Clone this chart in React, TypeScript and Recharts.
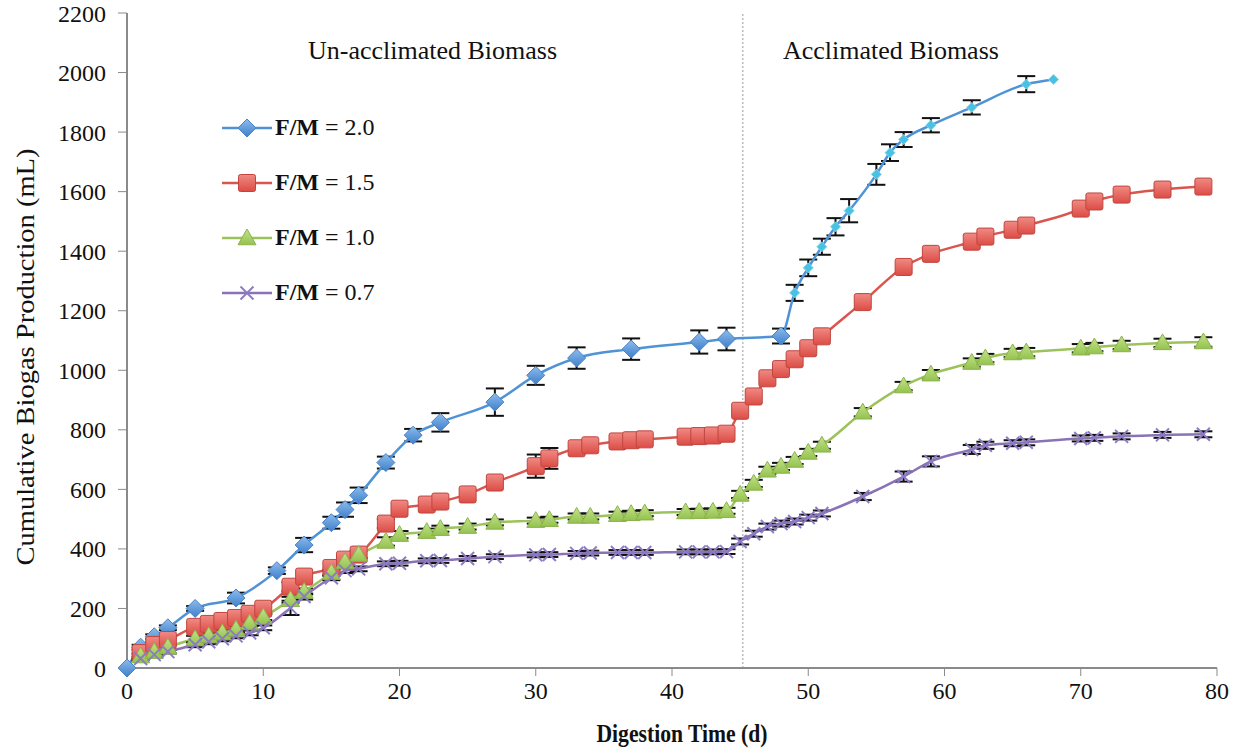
import { LineChart, Line, XAxis, YAxis, ErrorBar, ReferenceLine, Label } from "recharts";

// F/M = 2.0 (day 48 onwards is drawn with the small cyan marker)
const blueDays = [0, 1, 2, 3, 5, 8, 11, 13, 15, 16, 17, 19, 21, 23, 27, 30, 33, 37, 42, 44, 48, 49, 50, 51, 52, 53, 55, 56, 57, 59, 62, 66, 68];
const blueValues = [0, 70, 105, 135, 200, 235, 327, 413, 488, 532, 580, 690, 782, 825, 893, 983, 1041, 1071, 1095, 1105, 1115, 1260, 1344, 1415, 1482, 1536, 1658, 1731, 1775, 1823, 1883, 1961, 1977];
const blueErrors = [null, 8, 8, 8, 8, 18, 11, 24, 20, 24, 26, 20, 21, 31, 46, 32, 36, 36, 39, 38, 25, 27, 28, 27, 29, 39, 35, 28, 25, 24, 24, 27, null];

// F/M = 1.5
const redDays = [1, 2, 3, 5, 6, 7, 8, 9, 10, 12, 13, 15, 16, 17, 19, 20, 22, 23, 25, 27, 30, 31, 33, 34, 36, 37, 38, 41, 42, 43, 44, 45, 46, 47, 48, 49, 50, 51, 54, 57, 59, 62, 63, 65, 66, 70, 71, 73, 76, 79];
const redValues = [50, 77, 94, 138, 148, 158, 168, 182, 199, 273, 307, 336, 364, 381, 485, 535, 549, 559, 583, 623, 678, 704, 738, 748, 761, 765, 768, 777, 779, 781, 787, 864, 912, 973, 1004, 1037, 1074, 1114, 1229, 1347, 1391, 1432, 1449, 1472, 1486, 1543, 1567, 1590, 1607, 1617];
const redErrors = [null, null, null, null, null, null, null, null, null, 15, null, null, null, null, 15, null, null, null, null, null, 39, 35, null, null, null, null, null, null, null, null, null, null, null, null, null, null, null, null, null, null, null, null, null, null, null, null, null, null, null, null];

// F/M = 1.0
const greenDays = [1, 2, 3, 5, 6, 7, 8, 9, 10, 12, 13, 15, 16, 17, 19, 20, 22, 23, 25, 27, 30, 31, 33, 34, 36, 37, 38, 41, 42, 43, 44, 45, 46, 47, 48, 49, 50, 51, 54, 57, 59, 62, 63, 65, 66, 70, 71, 73, 76, 79];
const greenValues = [40, 55, 70, 98, 108, 118, 130, 151, 171, 229, 257, 320, 357, 381, 425, 448, 458, 468, 475, 489, 495, 498, 509, 509, 515, 518, 520, 524, 525, 526, 528, 583, 620, 664, 677, 697, 724, 748, 859, 947, 987, 1026, 1041, 1058, 1061, 1074, 1078, 1085, 1092, 1095];
const greenErrors = [8, 8, 8, 10, 10, 10, 10, 10, 10, 10, 10, 10, 10, 12, 14, 12, 10, 10, 10, 10, 10, 10, 10, 10, 10, 10, 10, 10, 10, 10, 10, 12, 12, 12, 12, 12, 12, 12, 14, 14, 14, 14, 14, 14, 14, 14, 14, 14, 14, 16];

// F/M = 0.7
const purpleDays = [1, 2, 3, 5, 6, 7, 8, 9, 10, 12, 13, 15, 16, 17, 19, 20, 22, 23, 25, 27, 30, 31, 33, 34, 36, 37, 38, 41, 42, 43, 44, 45, 46, 47, 48, 49, 50, 51, 54, 57, 59, 62, 63, 65, 66, 70, 71, 73, 76, 79];
const purpleValues = [32, 45, 55, 78, 88, 98, 108, 118, 135, 202, 240, 303, 327, 333, 350, 352, 360, 361, 368, 374, 380, 381, 385, 386, 388, 388, 388, 390, 390, 390, 391, 425, 451, 475, 485, 492, 505, 519, 576, 643, 694, 734, 748, 755, 758, 771, 773, 778, 783, 785];
const purpleErrors = [6, 6, 6, 8, 8, 8, 8, 8, 8, 24, 10, 8, 8, 8, 8, 8, 8, 8, 8, 8, 8, 8, 8, 8, 8, 8, 8, 8, 8, 8, 8, 10, 10, 10, 10, 10, 10, 10, 12, 17, 17, 15, 12, 10, 10, 10, 10, 10, 10, 10];

const xTicks = [0, 10, 20, 30, 40, 50, 60, 70, 80];
const yTicks = [0, 200, 400, 600, 800, 1000, 1200, 1400, 1600, 1800, 2000, 2200];
const acclimationDay = 45.2;

const build = (days: number[], values: number[], errors: (number | null)[]) =>
  days.map((d, i) => ({ day: d, value: values[i], err: errors[i] }));

const blueData = build(blueDays, blueValues, blueErrors);
const redData = build(redDays, redValues, redErrors);
const greenData = build(greenDays, greenValues, greenErrors);
const purpleData = build(purpleDays, purpleValues, purpleErrors);

const FONT = "'Liberation Serif', 'DejaVu Serif', serif";

const series = [
  { key: "blue", label: "= 2.0", color: "#4f93d6", data: blueData, shape: "diamond" },
  { key: "red", label: "= 1.5", color: "#d9564f", data: redData, shape: "square" },
  { key: "green", label: "= 1.0", color: "#9cc35b", data: greenData, shape: "triangle" },
  { key: "purple", label: "= 0.7", color: "#8a72b6", data: purpleData, shape: "cross" },
];

function Marker({ shape, cx, cy, small }: { shape: string; cx: number; cy: number; small?: boolean }) {
  if (shape === "diamond") {
    if (small) {
      const r = 5;
      return (
        <path
          d={`M${cx},${cy - r}L${cx + r},${cy}L${cx},${cy + r}L${cx - r},${cy}Z`}
          fill="#49c1e2"
          stroke="#7fd6ee"
          strokeWidth={1}
        />
      );
    }
    const r = 9;
    return (
      <path
        d={`M${cx},${cy - r}L${cx + r},${cy}L${cx},${cy + r}L${cx - r},${cy}Z`}
        fill="url(#gradBlue)"
        stroke="#4a82c4"
        strokeWidth={1}
      />
    );
  }
  if (shape === "square") {
    const s = 8.5;
    return (
      <rect x={cx - s} y={cy - s} width={2 * s} height={2 * s} rx={2} fill="url(#gradRed)" stroke="#c0453f" strokeWidth={1} />
    );
  }
  if (shape === "triangle") {
    const r = 9;
    return (
      <path
        d={`M${cx},${cy - r}L${cx + r},${cy + r * 0.75}L${cx - r},${cy + r * 0.75}Z`}
        fill="url(#gradGreen)"
        stroke="#8bb24c"
        strokeWidth={1}
      />
    );
  }
  const r = 6.5;
  return (
    <g stroke="#8c7cc4" strokeWidth={2}>
      <line x1={cx - r} y1={cy - r} x2={cx + r} y2={cy + r} />
      <line x1={cx - r} y1={cy + r} x2={cx + r} y2={cy - r} />
    </g>
  );
}

function makeDot(shape: string) {
  return (props: any) => {
    const { cx, cy, payload, index } = props;
    if (cx == null || cy == null) return <g key={`d-${shape}-${index}`} />;
    const small = shape === "diamond" && payload.day > 48;
    return (
      <g key={`d-${shape}-${index}`}>
        <Marker shape={shape} cx={cx} cy={cy} small={small} />
      </g>
    );
  };
}

function GradientDefs() {
  return (
    <defs>
      <linearGradient id="gradBlue" x1="0" y1="0" x2="0" y2="1">
        <stop offset="0%" stopColor="#8cbcec" />
        <stop offset="100%" stopColor="#3f7fcb" />
      </linearGradient>
      <linearGradient id="gradRed" x1="0" y1="0" x2="0" y2="1">
        <stop offset="0%" stopColor="#f08a84" />
        <stop offset="100%" stopColor="#dc4c45" />
      </linearGradient>
      <linearGradient id="gradGreen" x1="0" y1="0" x2="0" y2="1">
        <stop offset="0%" stopColor="#c3e38a" />
        <stop offset="100%" stopColor="#94c24f" />
      </linearGradient>
    </defs>
  );
}

export default function App() {
  return (
    <div style={{ position: "absolute", left: 0, top: 0, width: 1241, height: 750, background: "#fff" }}>
      <LineChart width={1241} height={750} margin={{ top: 13, right: 24, bottom: 0, left: 0 }}>
        <GradientDefs />
        <XAxis
          dataKey="day"
          type="number"
          domain={[0, 80]}
          ticks={xTicks}
          allowDuplicatedCategory={false}
          height={82}
          tickSize={8}
          tickMargin={6}
          axisLine={{ stroke: "#8a8a8a", strokeWidth: 2 }}
          tickLine={{ stroke: "#8a8a8a" }}
          tick={{ fontFamily: FONT, fontSize: 24, fill: "#111" }}
        >
          <Label
            content={() => (
              <text x={682} y={742} textAnchor="middle" fontFamily={FONT} fontSize={26} fontWeight="bold" fill="#111" textLength={171} lengthAdjust="spacingAndGlyphs">
                Digestion Time (d)
              </text>
            )}
          />
        </XAxis>
        <XAxis xAxisId="top" orientation="top" type="number" domain={[0, 80]} height={0} tick={false} tickLine={false} axisLine={{ stroke: "#222", strokeWidth: 1.5 }} />
        <YAxis
          type="number"
          domain={[0, 2200]}
          ticks={yTicks}
          width={127}
          tickSize={9}
          tickMargin={12}
          axisLine={{ stroke: "#8a8a8a", strokeWidth: 2 }}
          tickLine={{ stroke: "#8a8a8a" }}
          tick={{ fontFamily: FONT, fontSize: 24, fill: "#111" }}
        >
          <Label
            content={() => (
              <text transform="translate(34,357) rotate(-90)" textAnchor="middle" fontFamily={FONT} fontSize={25} fill="#111" textLength={417} lengthAdjust="spacingAndGlyphs">
                Cumulative Biogas Production (mL)
              </text>
            )}
          />
        </YAxis>
        <YAxis yAxisId="right" orientation="right" type="number" domain={[0, 2200]} width={0} tick={false} tickLine={false} axisLine={{ stroke: "#333", strokeWidth: 2 }} />
        <ReferenceLine x={acclimationDay} stroke="#9a9a9a" strokeDasharray="2 2" strokeWidth={1} />
        {series.map((s) => (
          <Line
            key={s.key}
            data={s.data}
            dataKey="value"
            name={`F/M ${s.label}`}
            type="monotone"
            stroke={s.color}
            strokeWidth={2.5}
            dot={makeDot(s.shape)}
            activeDot={false}
            isAnimationActive={false}
          >
            <ErrorBar dataKey="err" width={9} stroke="#111" strokeWidth={2} direction="y" />
          </Line>
        ))}
      </LineChart>

      {/* legend */}
      <div style={{ position: "absolute", left: 220, top: 100, fontFamily: FONT, fontSize: 24, color: "#111" }}>
        {series.map((s) => (
          <div key={s.key} style={{ display: "flex", alignItems: "center", height: 55 }}>
            <svg width={54} height={24}>
              <GradientDefs />
              <line x1={2} y1={12} x2={52} y2={12} stroke={s.color} strokeWidth={2.5} />
              <Marker shape={s.shape} cx={27} cy={12} />
            </svg>
            <span style={{ marginLeft: 1, whiteSpace: "nowrap" }}>
              <b>F/M</b> {s.label}
            </span>
          </div>
        ))}
      </div>

      <div style={{ position: "absolute", left: 308, top: 36, fontFamily: FONT, fontSize: 26, color: "#111", whiteSpace: "nowrap" }}>
        Un-acclimated Biomass
      </div>
      <div style={{ position: "absolute", left: 783, top: 36, fontFamily: FONT, fontSize: 26, color: "#111", whiteSpace: "nowrap" }}>
        Acclimated Biomass
      </div>
    </div>
  );
}
